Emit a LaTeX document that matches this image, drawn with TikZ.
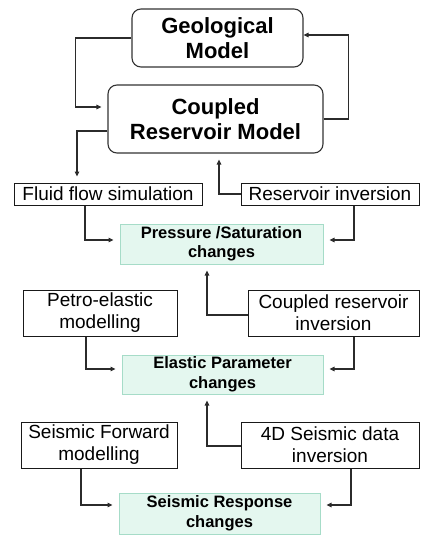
\documentclass[tikz,border=0pt]{standalone}
\usepackage{fontspec}
\setmainfont{Liberation Sans}
\usetikzlibrary{arrows.meta}
\definecolor{mintfill}{HTML}{E4F7EF}
\definecolor{mintline}{HTML}{A6DCC8}
\definecolor{wire}{HTML}{2B2B2B}
\tikzset{
  modelbox/.style={draw=black!80, line width=1.1pt, rounded corners=9pt, align=center,
    inner sep=0pt, font=\fontsize{22}{25}\selectfont\bfseries},
  taskbox/.style={draw=black!90, line width=1pt, align=center, inner sep=0pt,
    font=\fontsize{19}{22}\selectfont},
  changebox/.style={draw=mintline, fill=mintfill, line width=1pt, align=center, inner sep=0pt,
    font=\fontsize{16.5}{19.5}\selectfont\bfseries},
  arr/.style={draw=wire, line width=1.1pt, -{Triangle[length=5pt,width=4.5pt]}, shorten >=6pt},
  arrflush/.style={arr, shorten >=0pt}
}
\begin{document}
\begin{tikzpicture}[x=1pt,y=-1pt]
\useasboundingbox (0,0) rectangle (424,535);

% models
\node[modelbox, minimum width=171pt, minimum height=58pt] (geo) at (217.5,38) {Geological\\Model};
\node[modelbox, minimum width=215pt, minimum height=68pt] (crm) at (215.5,119) {Coupled\\Reservoir Model};

% first tier
\node[taskbox, minimum width=188pt, minimum height=22pt] (ffs) at (108,194) {Fluid flow simulation};
\node[taskbox, minimum width=178pt, minimum height=22pt] (rinv) at (330,194) {Reservoir inversion};
\node[changebox, minimum width=203pt, minimum height=40pt] (psc) at (221.5,244) {Pressure /Saturation\\changes};

% second tier
\node[taskbox, minimum width=154pt, minimum height=46pt] (pem) at (100,313) {Petro-elastic\\modelling};
\node[taskbox, minimum width=171pt, minimum height=46pt] (cri) at (333.5,313) {Coupled reservoir\\inversion};
\node[changebox, minimum width=201pt, minimum height=39pt] (epc) at (222.5,374.5) {Elastic Parameter\\changes};

% third tier
\node[taskbox, minimum width=156pt, minimum height=46pt] (sfm) at (99,445) {Seismic Forward\\modelling};
\node[taskbox, minimum width=178pt, minimum height=46pt] (sdi) at (330,445) {4D Seismic data\\inversion};
\node[changebox, minimum width=201pt, minimum height=41pt] (src) at (219.5,513.5) {Seismic Response\\changes};

% model loop
\draw[arr] (geo.west) -- ++(-56,0) |- ([yshift=12pt]crm.west);
\draw[arrflush] (crm.east) -- ++(25,0) |- ([yshift=3pt]geo.east);
\draw[arr] ([yshift=-12pt]crm.west) -| ([xshift=-31pt]ffs.north);
\draw[arr] (rinv.west) -| ([xshift=3.5pt]crm.south);

% pressure / saturation
\draw[arr] ([xshift=-23pt]ffs.south) |- ([yshift=4pt]psc.west);
\draw[arr] ([xshift=24pt]rinv.south) |- ([yshift=4pt]psc.east);
\draw[arr] ([yshift=-2pt]cri.west) -| ([xshift=-14.5pt]psc.south);

% elastic parameters
\draw[arr] ([xshift=-14pt]pem.south) |- ([yshift=5.5pt]epc.west);
\draw[arr] ([xshift=20.5pt]cri.south) |- ([yshift=5.5pt]epc.east);
\draw[arr] ([yshift=-1pt]sdi.west) -| ([xshift=-15.5pt]epc.south);

% seismic response
\draw[arr] ([xshift=-18pt]sfm.south) |- ([yshift=8.5pt]src.west);
\draw[arr] ([xshift=21pt]sdi.south) |- ([yshift=8.5pt]src.east);
\end{tikzpicture}
\end{document}
